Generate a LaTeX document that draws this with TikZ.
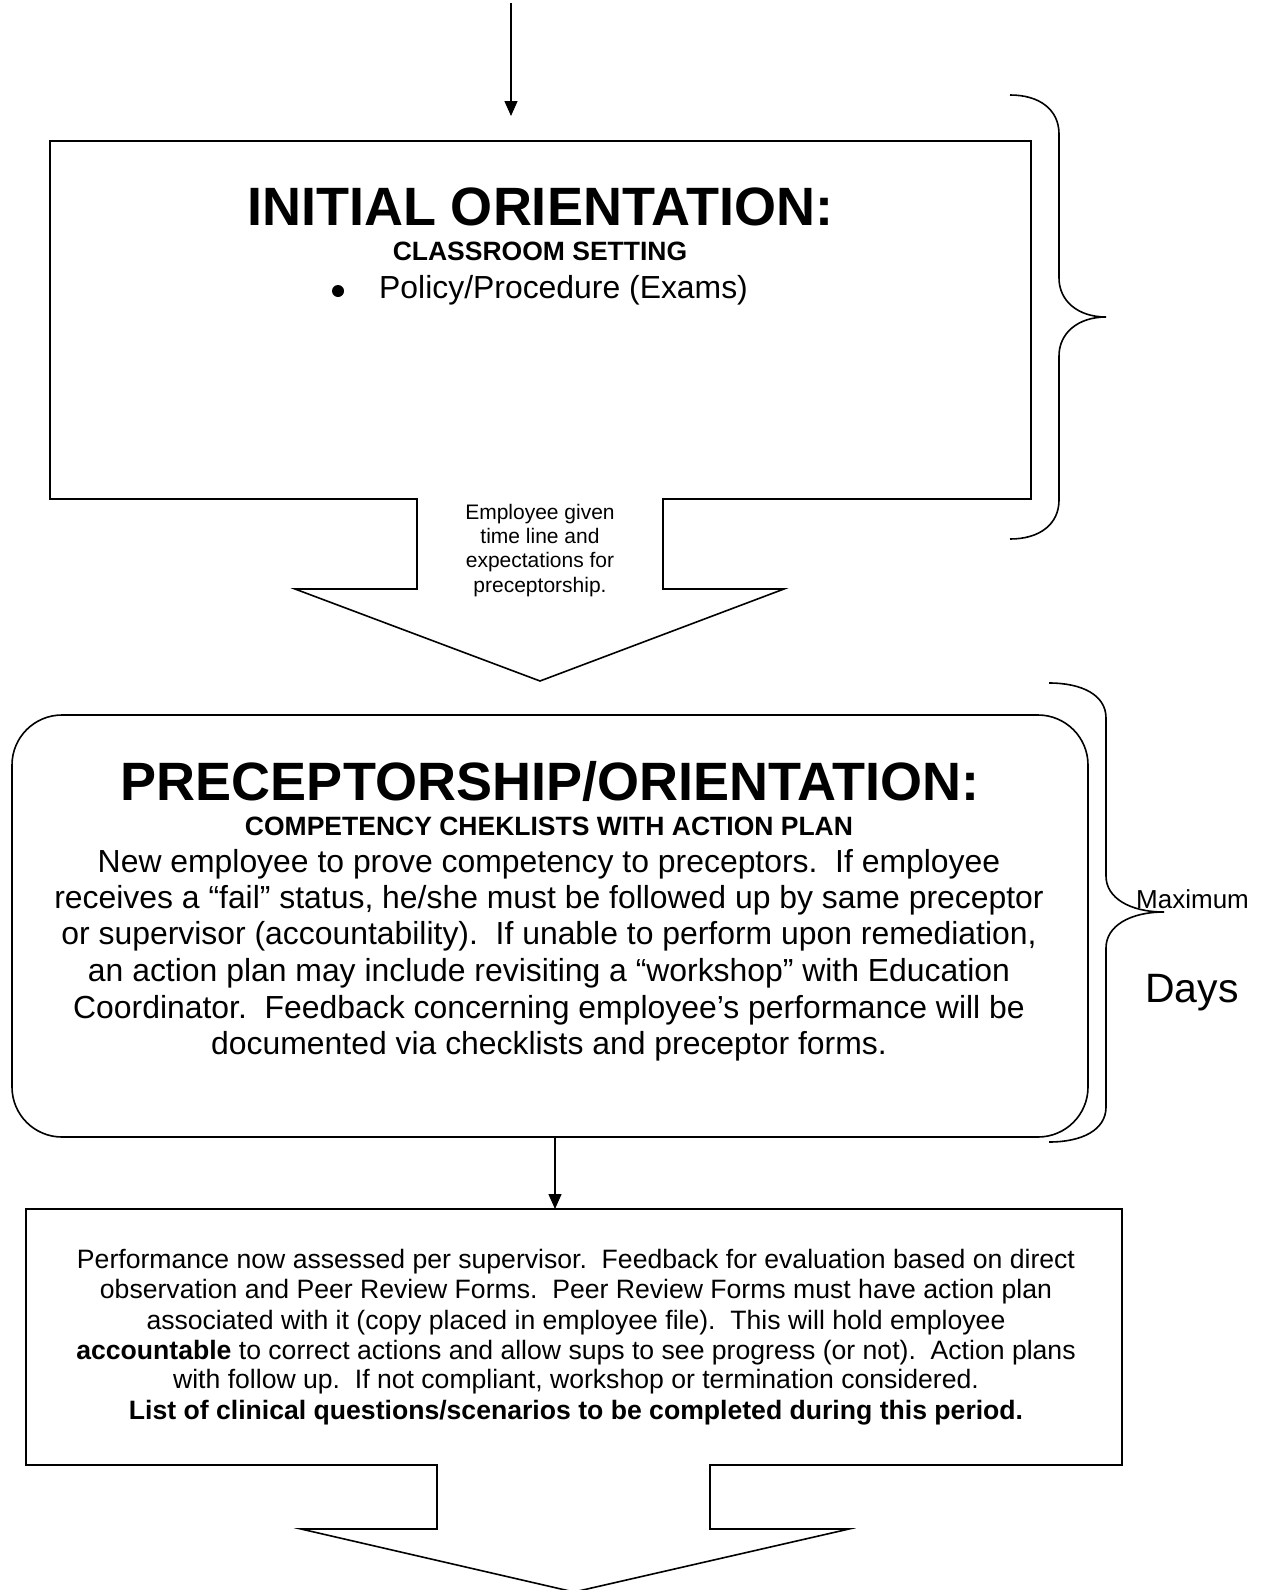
\documentclass[tikz,border=0pt]{standalone}
\usepackage{fontspec}
\setmainfont{Liberation Sans}
\usetikzlibrary{arrows.meta}
\frenchspacing
\begin{document}
\begin{tikzpicture}[x=1pt,y=-1pt,
  outline/.style={draw=black, line width=1.6pt, line join=miter},
  brace/.style={draw=black, line width=1.6pt},
  conn/.style={draw=black, line width=1.4pt, -{Triangle[length=15pt,width=13pt]}},
  txt/.style={inner sep=0pt, anchor=base},
  titlefont/.style={font=\bfseries\fontsize{54}{60}\selectfont},
  subfont/.style={font=\bfseries\fontsize{26.5}{30}\selectfont},
  bodyfont/.style={font=\fontsize{31.9}{37}\selectfont},
  smallfont/.style={font=\fontsize{21}{24}\selectfont},
  boxthreefont/.style={font=\fontsize{26.6}{30}\selectfont}]

\useasboundingbox (0,0) rectangle (1266,1590);
\fill[white] (0,0) rectangle (1266,1590);

% ---------- top arrow ----------
\coordinate (start) at (511,3);
\coordinate (startend) at (511,116);
\draw[conn] (start) -- (startend);

% ---------- box 1 with block arrow ----------
\draw[outline] (50,141) -- (1031,141) -- (1031,499) -- (663,499) -- (663,589)
  -- (784,589) -- (540,681) -- (295,589) -- (417,589) -- (417,499) -- (50,499) -- cycle;

\node[txt, titlefont] (t1) at (540,225) {INITIAL ORIENTATION:};
\node[txt, subfont] (s1) at (540,260) {CLASSROOM SETTING};
\node[circle, fill=black, inner sep=0pt, minimum size=12pt] (bul) at (338,291) {};
\node[txt, bodyfont, anchor=base west] (p1) at (379,298) {Policy/Procedure (Exams)};

\node[txt, smallfont] (a1) at (540,519) {Employee given};
\node[txt, smallfont] (a2) at (540,543) {time line and};
\node[txt, smallfont] (a3) at (540,567) {expectations for};
\node[txt, smallfont] (a4) at (540,592) {preceptorship.};

% brace 1
\draw[brace] (1010,95) .. controls (1040,95) and (1059,110) .. (1059,134)
  -- (1059,278) .. controls (1059,301) and (1078,317) .. (1106,317)
  .. controls (1078,317) and (1059,333) .. (1059,356)
  -- (1059,500) .. controls (1059,524) and (1040,539) .. (1010,539);

% ---------- box 2 ----------
\node[outline, rounded corners=50pt, minimum width=1076pt, minimum height=422pt,
  inner sep=0pt] (box2) at (550,926) {};

\node[txt, titlefont] (t2) at (550,800) {PRECEPTORSHIP/ORIENTATION:};
\node[txt, subfont] (s2) at (549,835) {COMPETENCY CHEKLISTS WITH ACTION PLAN};
\node[txt, bodyfont] (b1) at (549,872) {New employee to prove competency to preceptors.\ \ If employee};
\node[txt, bodyfont] (b2) at (549,908) {receives a “fail” status, he/she must be followed up by same preceptor};
\node[txt, bodyfont] (b3) at (549,944) {or supervisor (accountability).\ \ If unable to perform upon remediation,};
\node[txt, bodyfont] (b4) at (549,981) {an action plan may include revisiting a “workshop” with Education};
\node[txt, bodyfont] (b5) at (549,1018) {Coordinator.\ \ Feedback concerning employee’s performance will be};
\node[txt, bodyfont] (b6) at (549,1054) {documented via checklists and preceptor forms.};

% brace 2
\draw[brace] (1049,683) .. controls (1082,683) and (1106,695) .. (1106,718)
  -- (1106,876) .. controls (1106,898) and (1130,912) .. (1164,912)
  .. controls (1130,912) and (1106,926) .. (1106,948)
  -- (1106,1107) .. controls (1106,1130) and (1082,1142) .. (1049,1142);

\node[txt, anchor=base west, font=\fontsize{26}{30}\selectfont] (max) at (1136,908) {Maximum};
\node[txt, anchor=base west, font=\fontsize{41}{46}\selectfont] (days) at (1145,1002) {Days};

% ---------- connector box2 -> box3 ----------
\coordinate (b3top) at (555,1209);
\draw[conn] (box2.south -| b3top) -- (b3top);

% ---------- box 3 with block arrow ----------
\draw[outline] (26,1209) -- (1122,1209) -- (1122,1465) -- (710,1465) -- (710,1529)
  -- (849,1529) -- (574,1592) -- (301,1529) -- (437,1529) -- (437,1465) -- (26,1465) -- cycle;

\node[txt, boxthreefont] (c1) at (576,1268) {Performance now assessed per supervisor.\ \ Feedback for evaluation based on direct};
\node[txt, boxthreefont] (c2) at (576,1298) {observation and Peer Review Forms.\ \ Peer Review Forms must have action plan};
\node[txt, boxthreefont] (c3) at (576,1329) {associated with it (copy placed in employee file).\ \ This will hold employee};
\node[txt, boxthreefont] (c4) at (576,1359) {\textbf{accountable} to correct actions and allow sups to see progress (or not).\ \ Action plans};
\node[txt, boxthreefont] (c5) at (576,1388) {with follow up.\ \ If not compliant, workshop or termination considered.};
\node[txt, boxthreefont] (c6) at (576,1419) {\textbf{List of clinical questions/scenarios to be completed during this period.}};

\end{tikzpicture}
\end{document}
